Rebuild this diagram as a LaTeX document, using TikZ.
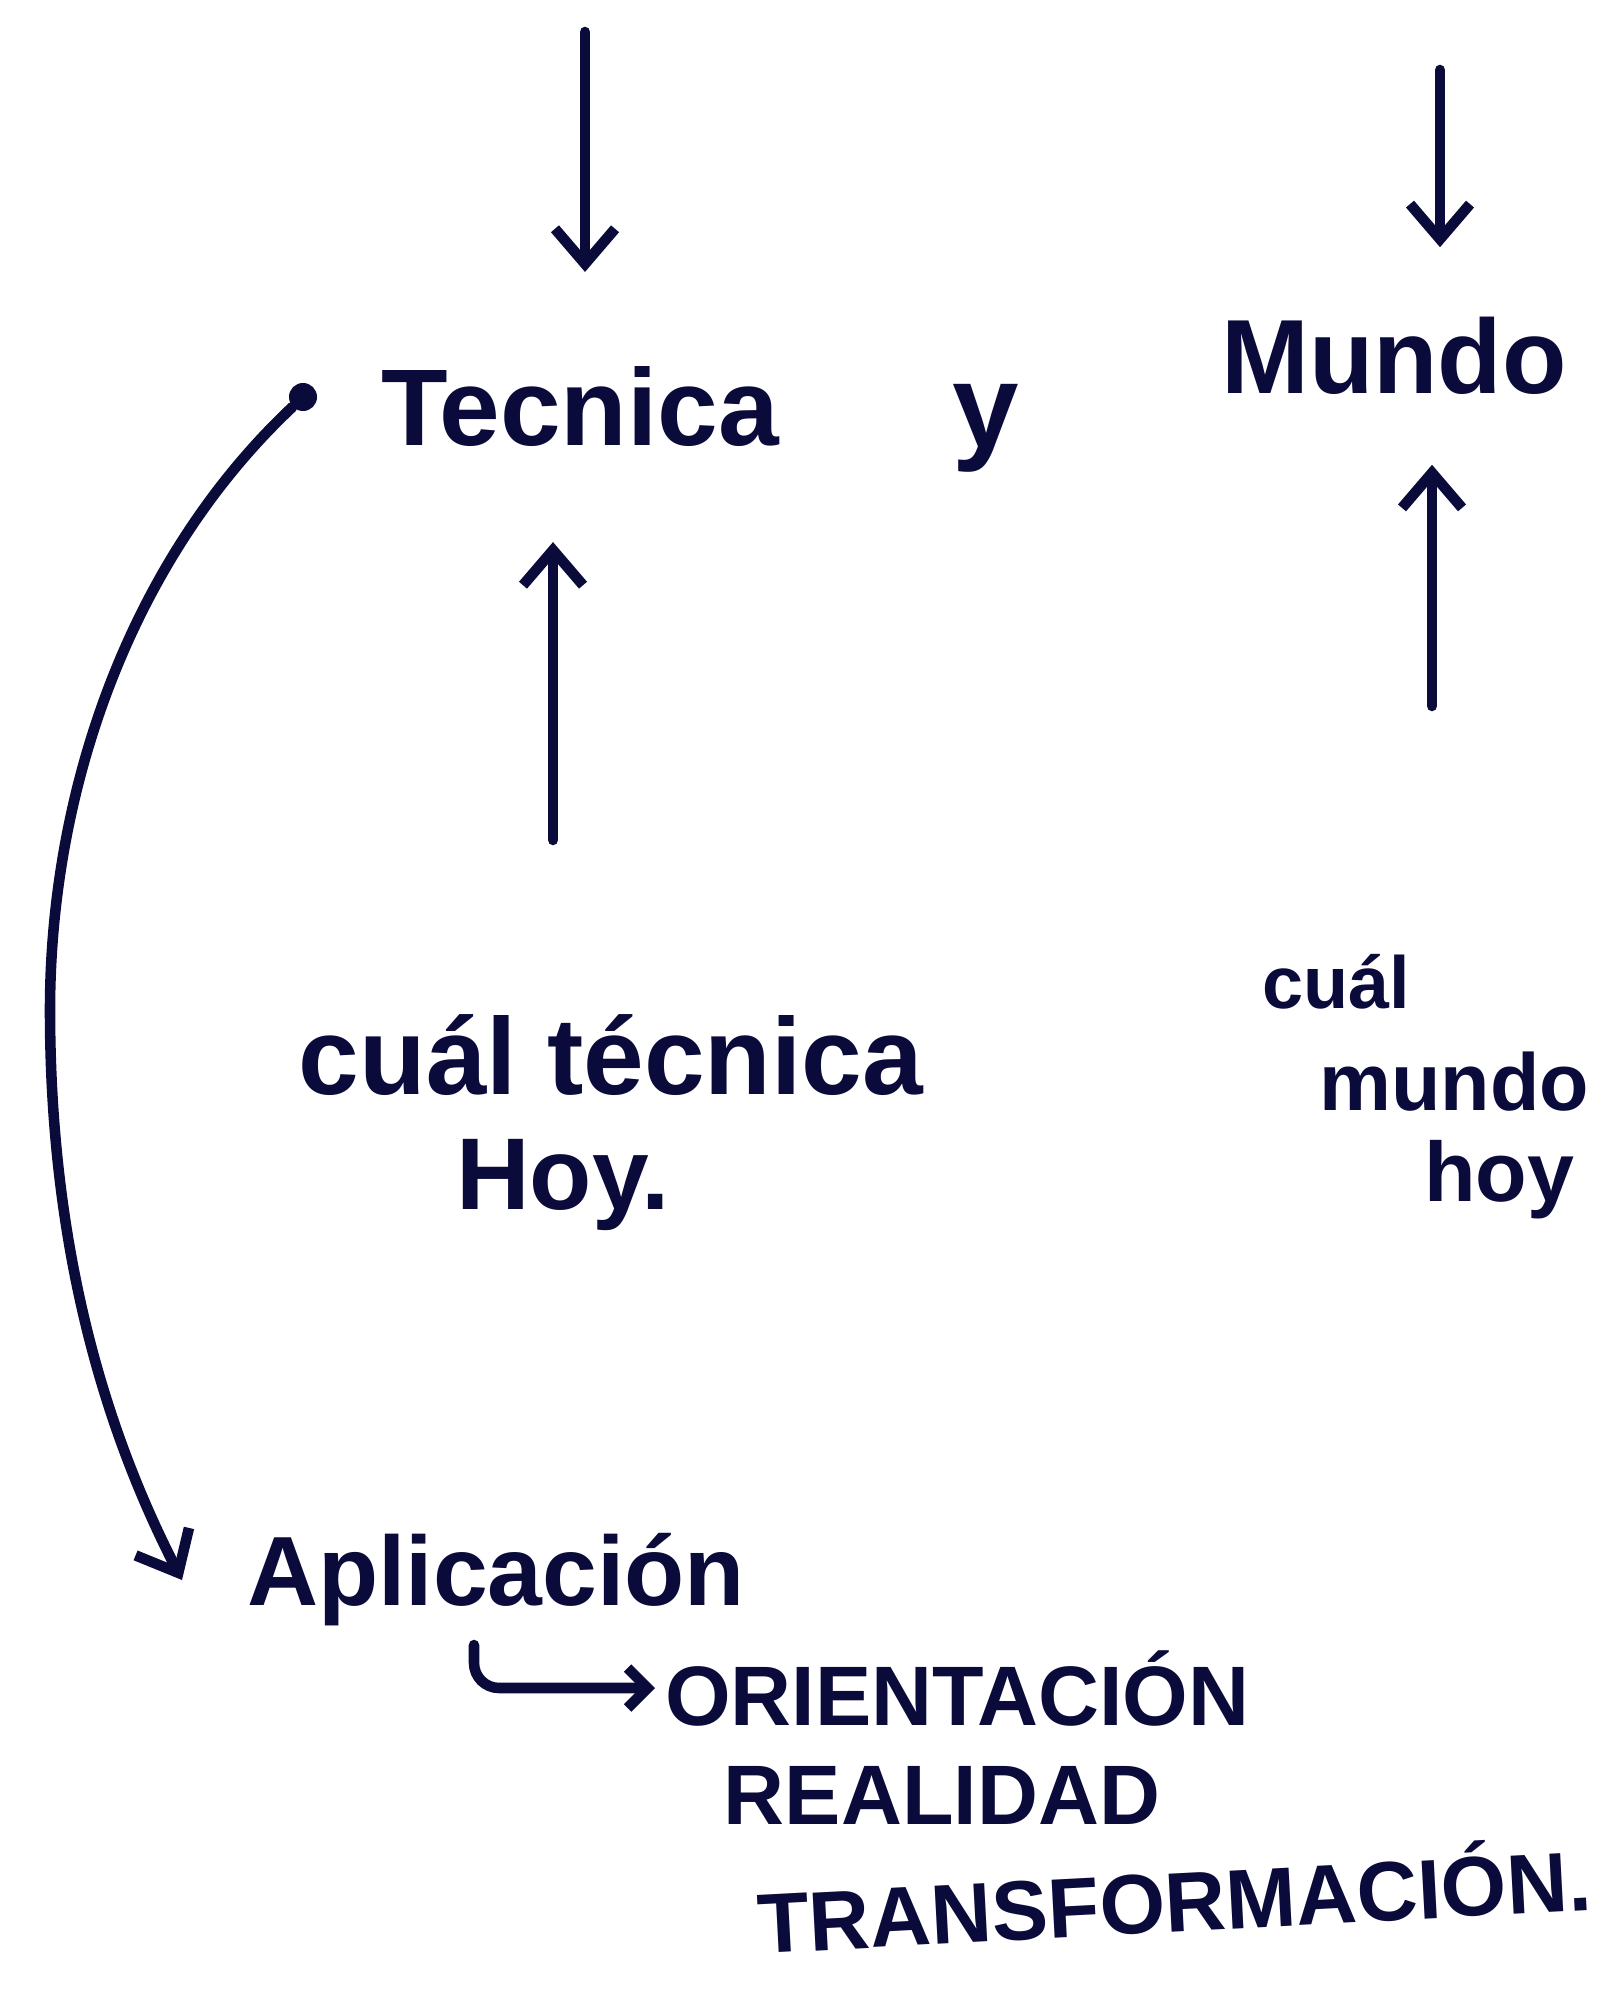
\documentclass[tikz,border=0pt]{standalone}
\usepackage{fontspec}
\setmainfont{Liberation Sans}
\usetikzlibrary{arrows.meta}
\definecolor{ink}{HTML}{0B0B3B}
\begin{document}
\begin{tikzpicture}[x=0.01cm,y=-0.01cm,
  lbl/.style={text=ink,font=\bfseries\fontsize{#1}{#1}\selectfont,inner sep=0pt},
  arr/.style={draw=ink,line width=3pt,line cap=round,line join=round,-{Straight Barb[length=0.35cm,width=0.6cm]}},
  smallarr/.style={draw=ink,line width=3pt,line cap=round,line join=round,rounded corners=0.25cm,-{Straight Barb[length=0.2cm,width=0.4cm]}}]
\useasboundingbox (0,0) rectangle (1619,1995);
% top row
\node[lbl=31,outer sep=0.95cm] (tec) at (580,407) {Tecnica};
\node[lbl=34] (y) at (986,428) {y};
\node[lbl=30,outer sep=0.7cm] (mun) at (1394,356) {Mundo};
\node[circle,fill=ink,minimum size=0.28cm,inner sep=0pt] (dot) at (303,397) {};
% questions
\node[lbl=31] (q1) at (611,1055) {cuál técnica};
\node[lbl=29] (q1b) at (563,1185) {Hoy.};
\node[lbl=21] (q2a) at (1336,982) {cuál};
\node[lbl=23] (q2b) at (1454,1082) {mundo};
\node[lbl=24] (q2c) at (1499,1180) {hoy};
% bottom
\node[lbl=28,outer sep=0.65cm] (apl) at (496,1580) {Aplicación};
\node[lbl=24,anchor=west,outer sep=0.1cm] (ori) at (655,1688) {ORIENTACIÓN};
\node[lbl=24] (rea) at (942,1795) {REALIDAD};
\node[lbl=24,rotate=3] (tra) at (1174,1895) {TRANSFORMACIÓN.};
% arrows
\coordinate (a1) at (585,32);
\coordinate (a2) at (553,840);
\coordinate (a3) at (1440,70);
\coordinate (a4) at (1432,706);
\coordinate (hk) at (474,1645);
\draw[arr] (a1) -- (a1 |- tec.north);
\draw[arr] (a2) -- (a2 |- tec.south);
\draw[arr] (a3) -- (a3 |- mun.north);
\draw[arr] (a4) -- (a4 |- mun.south);
\draw[arr] (dot) .. controls (130,560) and (50,790) .. (50,1010)
  .. controls (50,1260) and (110,1440) .. (apl.west);
\draw[smallarr] (hk) |- (ori.west);
\end{tikzpicture}
\end{document}
